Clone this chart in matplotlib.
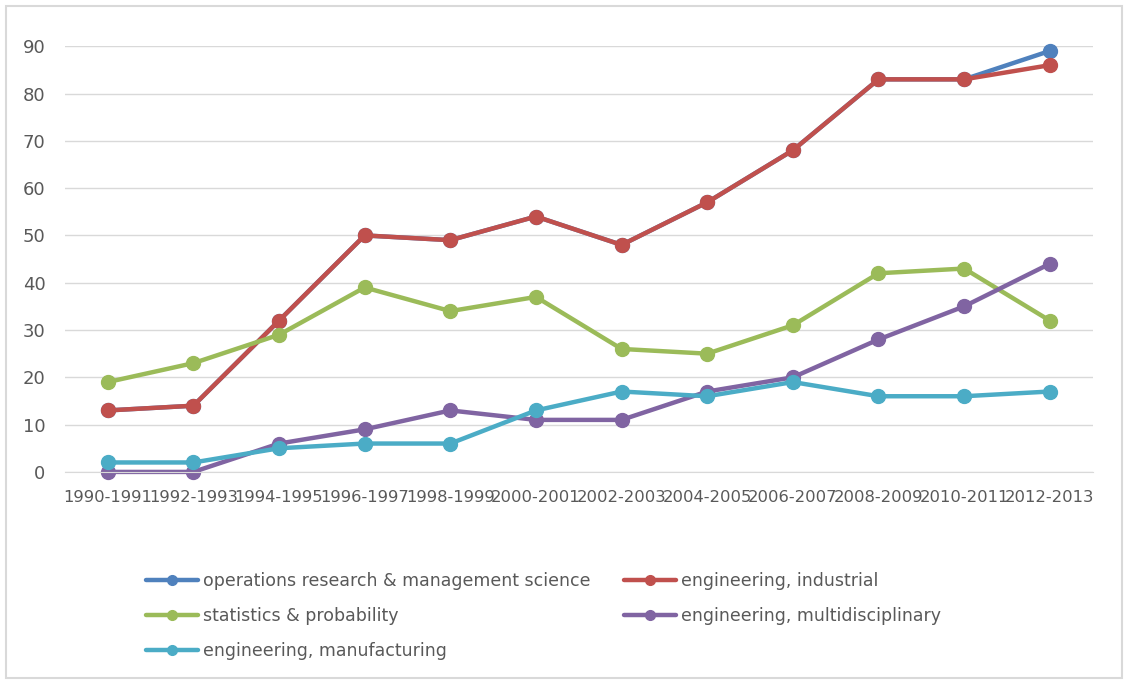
import numpy as np
import matplotlib
matplotlib.use("Agg")
import matplotlib.pyplot as plt
from matplotlib.patches import Rectangle

# periods on the x axis
periods = ["1990-1991", "1992-1993", "1994-1995", "1996-1997", "1998-1999", "2000-2001",
           "2002-2003", "2004-2005", "2006-2007", "2008-2009", "2010-2011", "2012-2013"]

# counts per subject category
op_research = [13, 14, 32, 50, 49, 54, 48, 57, 68, 83, 83, 89]
eng_industrial = [13, 14, 32, 50, 49, 54, 48, 57, 68, 83, 83, 86]
stats_prob = [19, 23, 29, 39, 34, 37, 26, 25, 31, 42, 43, 32]
eng_multi = [0, 0, 6, 9, 13, 11, 11, 17, 20, 28, 35, 44]
eng_manuf = [2, 2, 5, 6, 6, 13, 17, 16, 19, 16, 16, 17]

names = ["operations research & management science", "engineering, industrial",
         "statistics & probability", "engineering, multidisciplinary",
         "engineering, manufacturing"]
colors = ["#4F81BD", "#C0504D", "#9BBB59", "#8064A2", "#4BACC6"]

plt.rcParams['font.family'] = ['DejaVu Sans']

fig = plt.figure(figsize=(11.28, 6.8), dpi=100)
ax = fig.add_axes([0.0576, 0.306, 0.911, 0.626])

# outer chart border
fig.patches.append(Rectangle((0.005, 0.003), 0.99, 0.988, transform=fig.transFigure,
                             fill=False, edgecolor="#D9D9D9", linewidth=1.5))

x = np.arange(len(periods))
series = [op_research, eng_industrial, stats_prob, eng_multi, eng_manuf]
lines = []
for vals, name, c in zip(series, names, colors):
    ln, = ax.plot(x, vals, color=c, linewidth=3.2, marker="o", markersize=10,
                  label=name, solid_capstyle="round", clip_on=False)
    lines.append(ln)

ax.set_xlim(-0.5, len(periods) - 0.5)
ax.set_ylim(0, 90)
ax.set_yticks(np.arange(0, 91, 10))
ax.set_xticks(x)
ax.set_xticklabels(periods)
ax.yaxis.grid(True, color="#D9D9D9", linewidth=1)
ax.set_axisbelow(True)
for s in ["top", "right", "left"]:
    ax.spines[s].set_visible(False)
ax.spines["bottom"].set_color("#D9D9D9")
ax.tick_params(axis="both", length=0, colors="#595959")
ax.tick_params(axis="y", labelsize=13, pad=14)
ax.tick_params(axis="x", labelsize=11.8, pad=13)

# legend in Excel row-major order
order = [0, 2, 4, 1, 3]
leg = fig.legend([lines[i] for i in order], [names[i] for i in order],
                 loc="center", bbox_to_anchor=(0.482, 0.094), ncol=2,
                 frameon=False, fontsize=12.5, handlelength=3.0, handletextpad=0.3,
                 columnspacing=1.9, labelspacing=1.0, markerscale=0.7)
for t in leg.get_texts():
    t.set_color("#595959")

fig.savefig("out.png", dpi=100)
